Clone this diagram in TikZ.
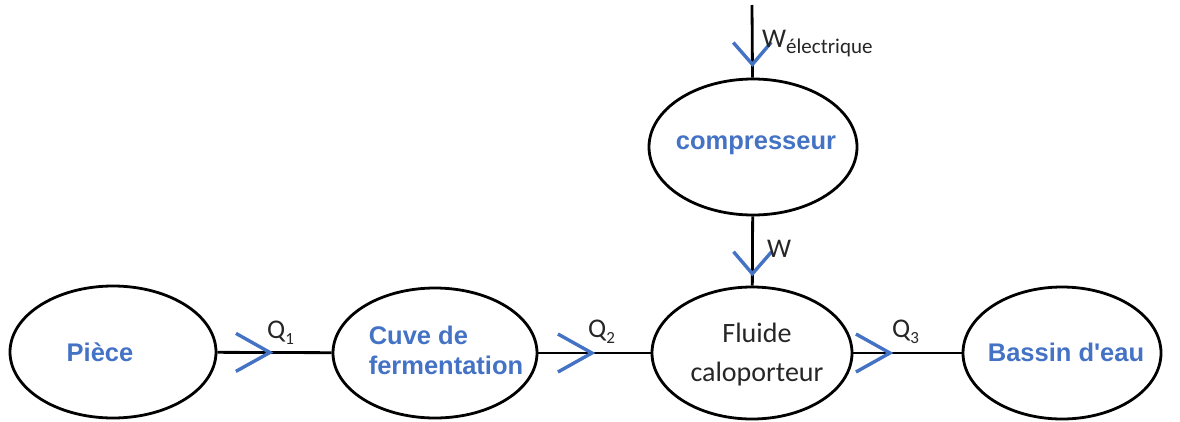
\documentclass[tikz,border=0pt]{standalone}
\usepackage{fontspec}
\setmainfont{Carlito}
\setsansfont{Liberation Sans}[Ligatures=TeXOff]
\usetikzlibrary{shapes.geometric,arrows.meta,decorations.markings}
\definecolor{wordblue}{HTML}{4472C4}
\newcommand{\lowtxt}[2]{\raisebox{-0.25em}{\fontsize{#1}{#1}\selectfont #2}}

\begin{document}
\begin{tikzpicture}
  [x=1pt,y=-1pt]
      \tikzstyle{box_style} = [draw=black, ellipse, line width=2.8pt, inner sep=0pt]
      \tikzstyle{name_style} = [font=\sffamily\bfseries\fontsize{25.5}{30}\selectfont, text=wordblue, inner sep=0pt]
      \tikzstyle{edge_style} = [draw=black, line width=2.8pt]
      \tikzstyle{label_style} = [font=\fontsize{27}{27}\selectfont, text=black!85, inner sep=0pt, anchor=base west]
      \tikzset{flow_h/.style={postaction={decorate}, decoration={markings, mark=at position #1 with {\arrow{Straight Barb[length=34pt, width=38pt, line width=3.4pt, color=wordblue]}}}}}
      \tikzset{flow_v/.style={postaction={decorate}, decoration={markings, mark=at position #1 with {\arrow{Straight Barb[length=22pt, width=38pt, line width=3.4pt, color=wordblue]}}}}}
  \useasboundingbox (0,0) rectangle (1180,421);
  % the five boxes
  \node[box_style, minimum width=206pt, minimum height=132pt] (piece) at (113,352) {};
  \node[box_style, minimum width=204pt, minimum height=130pt] (cuve) at (435,353) {};
  \node[box_style, minimum width=200pt, minimum height=132pt] (fluide) at (752,353) {};
  \node[box_style, minimum width=198pt, minimum height=132pt] (bassin) at (1062,353) {};
  \node[box_style, minimum width=208pt, minimum height=136pt] (comp) at (753,147) {};
  \coordinate (elec_in) at (752,5);
  % texts
  \node[name_style] (piece_txt) at (100,352) {Pièce};
  \node[name_style, align=left] (cuve_txt) at (446,350) {Cuve de\\fermentation};
  \node[name_style] (bassin_txt) at (1066,352) {Bassin d'eau};
  \node[name_style] (comp_txt) at (756,145) {compresseur};
  \node[font=\fontsize{28}{39}\selectfont, text=black!85, align=center, inner sep=0pt] (fluide_txt) at (757,355) {Fluide\\caloporteur};
  % flows
  \draw[edge_style, flow_h=56pt] (piece) -- (cuve);
  \draw[edge_style, flow_h=57pt] (cuve) -- (fluide);
  \draw[edge_style, flow_h=40pt] (fluide) -- (bassin);
  \draw[edge_style, flow_v=60pt] (comp) -- (fluide);
  \draw[edge_style, flow_v=62pt] (elec_in) -- (comp);
  \node[label_style] (q1) at (267,338) {Q\lowtxt{17}{1}};
  \node[label_style] (q2) at (588,337) {Q\lowtxt{17}{2}};
  \node[label_style] (q3) at (892,337) {Q\lowtxt{17}{3}};
  \node[label_style] (w) at (767,257) {W};
  \node[label_style] (w_elec) at (762,47) {W\lowtxt{21}{électrique}};
\end{tikzpicture}
\end{document}
